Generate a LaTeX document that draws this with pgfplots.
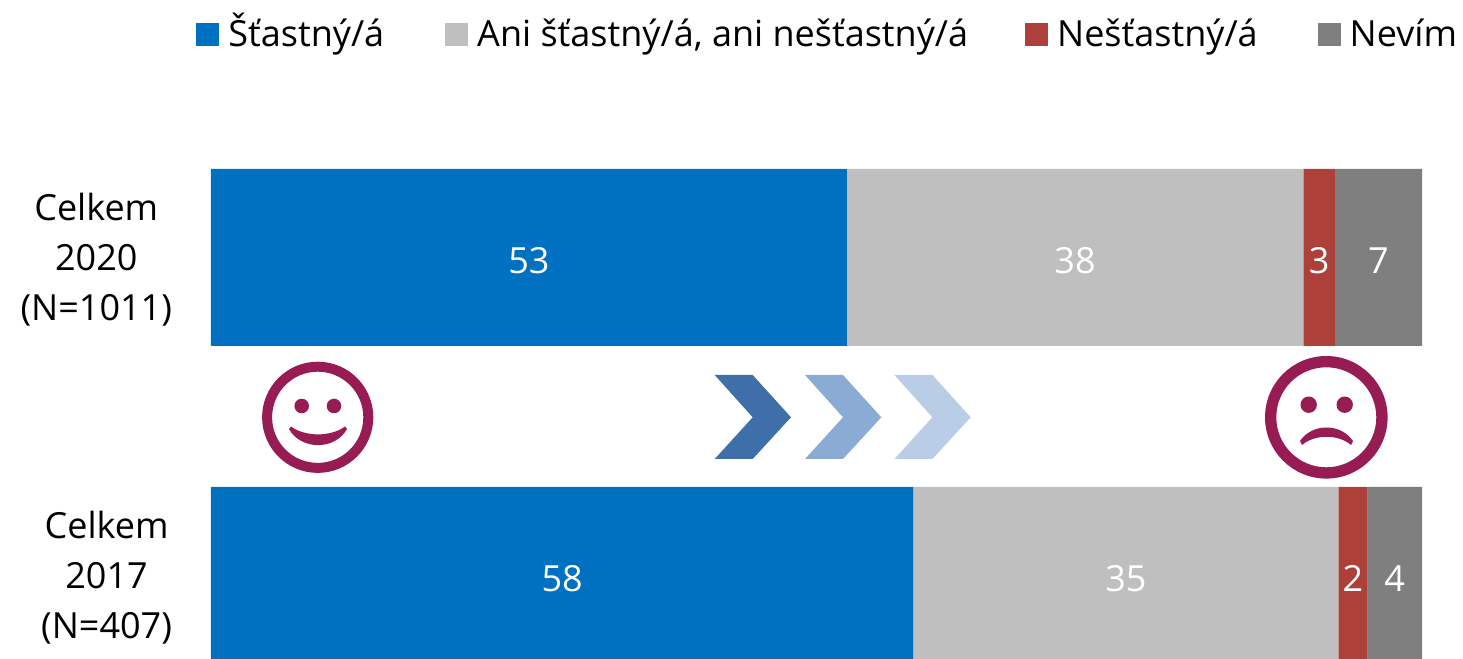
\documentclass[border=0pt]{standalone}
\usepackage{fontspec}
\setmainfont{Open Sans}
\usepackage{pgfplots}
\pgfplotsset{compat=1.18}
\definecolor{stastny}{RGB}{0,112,192}
\definecolor{ani}{RGB}{191,191,191}
\definecolor{nestastny}{RGB}{174,64,58}
\definecolor{nevim}{RGB}{127,127,127}
\definecolor{face}{RGB}{152,28,84}
\pgfplotsset{
  sq/.style={legend image code/.code={\fill[##1] (0pt,-5pt) rectangle (11.5pt,6.5pt);}}
}
\begin{document}
\begin{tikzpicture}
\useasboundingbox (0,0) rectangle (731.5pt,329.5pt);
\begin{axis}[
  at={(105.5pt,0pt)}, anchor=south west,
  scale only axis, width=605.5pt, height=245pt,
  xbar stacked, bar width=88.5pt, bar shift=0pt,
  xmin=0, xmax=100, ymin=-0.2626, ymax=1.2783,
  axis line style={draw=none}, tick style={draw=none},
  xtick=\empty, ytick={0,1},
  yticklabels={{Celkem\\2017\\(N=407)},{Celkem\\2020\\(N=1011)}},
  yticklabel style={align=center, font=\fontsize{18}{25}\selectfont, xshift=-16pt, yshift=-1.25pt, text=black},
  point meta=explicit symbolic,
  nodes near coords,
  every node near coord/.append style={anchor=center, yshift=-1.5pt, text=white, font=\fontsize{18}{20}\selectfont},
  legend columns=4, legend cell align=left,
  legend style={draw=none, fill=none, at={(-10.5pt,311.25pt)}, anchor=west, font=\fontsize{18}{20}\selectfont,
    nodes={text height=14pt, text depth=4pt},
    /tikz/every odd column/.append style={column sep=2.5pt},
    /tikz/column 2/.style={column sep=28.5pt},
    /tikz/column 4/.style={column sep=26.5pt},
    /tikz/column 6/.style={column sep=28pt}},
]
\addplot[fill=stastny, draw=none, sq] coordinates {(52.5,1)[53] (58.0,0)[58]};
\addplot[fill=ani, draw=none, sq] coordinates {(37.7,1)[38] (35.1,0)[35]};
\addplot[fill=nestastny, draw=none, sq] coordinates {(2.6,1)[3] (2.4,0)[2]};
\addplot[fill=nevim, draw=none, sq] coordinates {(7.2,1)[7] (4.5,0)[4]};
\legend{Šťastný/á, {Ani šťastný/á, ani nešťastný/á}, Nešťastný/á, Nevím}
\end{axis}
% decorations between the bars, in reference pixels
\begin{scope}[x=0.5pt, y=-0.5pt, yshift=329.5pt]
  \fill[fill=face, even odd rule] (317.7,417.3) circle (55.6) (317.7,417.3) circle (45.6);
  \fill[face] (301.7,406) circle (7.3) (334,406) circle (7.3);
  \fill[face] (291,426.5) .. controls (305,437) and (331,437) .. (345,426.5) -- (347,429)
     .. controls (335,450.5) and (301,450.5) .. (289,429) -- cycle;
  \fill[fill=face, even odd rule] (1326.3,417.3) circle (61.3) (1326.3,417.3) circle (50);
  \fill[face] (1308.7,404.7) circle (8.2) (1344.7,404.7) circle (8.2);
  \fill[face] (1300,441) .. controls (1312,423) and (1341,423) .. (1353,441) -- (1351,445)
     .. controls (1338,434) and (1315,434) .. (1302,445) -- cycle;
  \fill[color={rgb,255:red,63;green,111;blue,168}] (714.7,375) -- (752.7,375) -- (791,417.3) -- (752.7,459) -- (714.7,459) -- (752.7,417.3) -- cycle;
  \fill[color={rgb,255:red,138;green,171;blue,212}] (805,375) -- (843,375) -- (881.3,417.3) -- (843,459) -- (805,459) -- (843,417.3) -- cycle;
  \fill[color={rgb,255:red,186;green,205;blue,230}] (894.4,375) -- (932.4,375) -- (970.7,417.3) -- (932.4,459) -- (894.4,459) -- (932.4,417.3) -- cycle;
\end{scope}
\end{tikzpicture}
\end{document}
